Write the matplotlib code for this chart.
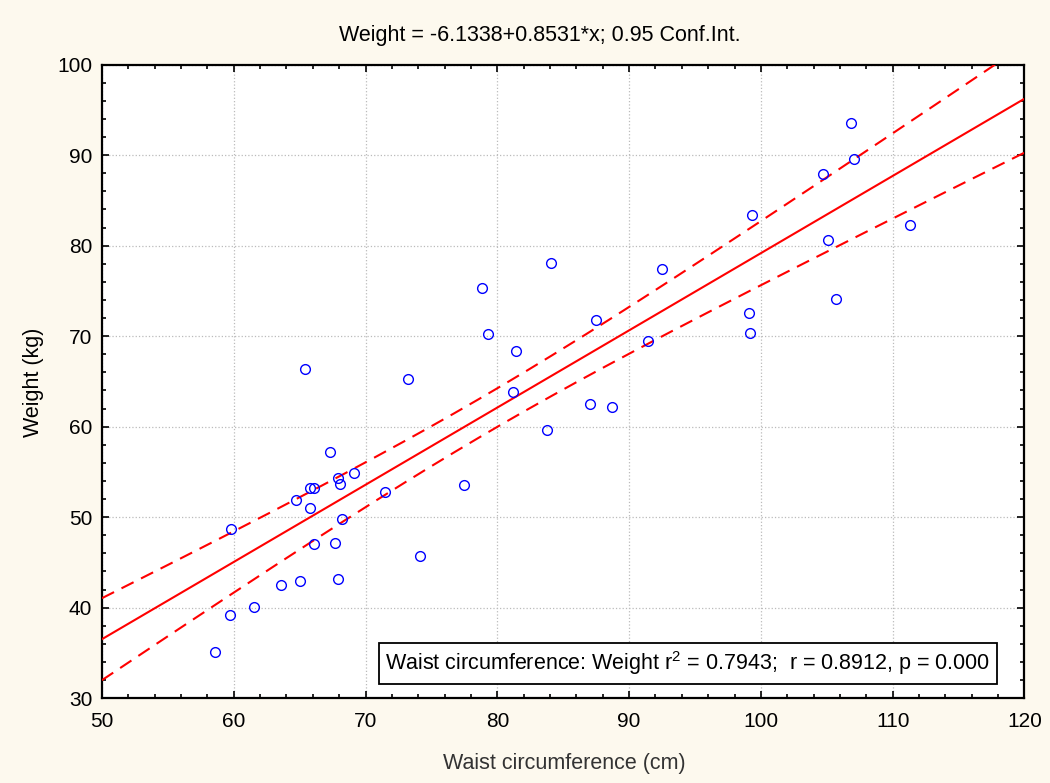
import numpy as np
import matplotlib
matplotlib.use("Agg")
import matplotlib.pyplot as plt
from matplotlib.ticker import MultipleLocator

# ── Data ───────────────────────────────────────────────────────────────
waist = [58.6, 59.7, 59.8, 61.5, 63.6, 64.7, 65.0, 65.4, 65.8, 65.8,
         66.1, 66.1, 67.3, 67.7, 67.9, 67.9, 68.1, 68.2, 69.1, 71.5,
         73.2, 74.1, 77.5, 78.8, 79.3, 81.2, 81.4, 83.8, 84.1, 87.0,
         87.5, 88.7, 91.4, 92.5, 99.1, 99.2, 99.3, 104.7, 105.1, 105.7,
         106.8, 107.1, 111.3]
weight = [35.1, 39.2, 48.7, 40.1, 42.5, 51.9, 43.0, 66.4, 53.2, 51.0,
          53.2, 47.0, 57.2, 47.2, 54.3, 43.2, 53.7, 49.8, 54.9, 52.8,
          65.3, 45.7, 53.6, 75.3, 70.2, 63.8, 68.4, 59.6, 78.1, 62.5,
          71.8, 62.2, 69.5, 77.4, 72.6, 70.4, 83.4, 87.9, 80.6, 74.1,
          93.6, 89.6, 82.3]

INTERCEPT = -6.1338
SLOPE = 0.8531
R2 = 0.7943
R = 0.8912
P = 0.000

BG = "#FDF9EE"

plt.rcParams["font.family"] = ["Liberation Sans", "DejaVu Sans"]
plt.rcParams["mathtext.fontset"] = "custom"
plt.rcParams["mathtext.rm"] = "Liberation Sans"

fig = plt.figure(figsize=(10.5, 7.83), dpi=100, facecolor=BG)
ax = fig.add_axes([0.0971, 0.1083, 0.8786, 0.8091])
ax.set_facecolor("white")

x = np.array(waist)
y = np.array(weight)
n = len(x)

# regression line and 95% confidence band for the mean
xs = np.linspace(50, 120, 300)
yhat = INTERCEPT + SLOPE * xs
resid = y - (INTERCEPT + SLOPE * x)
s = np.sqrt(np.sum(resid ** 2) / (n - 2))
sxx = np.sum((x - x.mean()) ** 2)
tval = 2.0195  # t(0.975, 41)
half = tval * s * np.sqrt(1.0 / n + (xs - x.mean()) ** 2 / sxx)

ax.plot(xs, yhat, color="#FF0000", linewidth=1.5, zorder=3)
ax.plot(xs, yhat + half, color="#FF0000", linewidth=1.5,
        dashes=(6.5, 4), zorder=3)
ax.plot(xs, yhat - half, color="#FF0000", linewidth=1.5,
        dashes=(6.5, 4), zorder=3)

ax.plot(x, y, linestyle="none", marker="o", markersize=7,
        markerfacecolor="none", markeredgecolor="#0000FF",
        markeredgewidth=1.0, zorder=4)

ax.set_xlim(50, 120)
ax.set_ylim(30, 100)
ax.xaxis.set_major_locator(MultipleLocator(10))
ax.xaxis.set_minor_locator(MultipleLocator(2))
ax.yaxis.set_major_locator(MultipleLocator(10))
ax.yaxis.set_minor_locator(MultipleLocator(2))
ax.tick_params(which="both", direction="in", top=True, right=True,
               labelsize=15, width=1.2)
ax.tick_params(axis="x", pad=10)
ax.tick_params(axis="y", pad=7)
ax.tick_params(which="major", length=5)
ax.tick_params(which="minor", length=3)
ax.grid(True, which="major", linestyle=":", color="#BBBBBB", linewidth=0.9)
for sp in ax.spines.values():
    sp.set_linewidth(1.6)

fig.text(540 / 1050, 1 - 36 / 783,
         f"Weight = {INTERCEPT:.4f}+{SLOPE:.4f}*x; 0.95 Conf.Int.",
         ha="center", va="center", fontsize=15.5)
fig.text(564 / 1050, 1 - 763 / 783, "Waist circumference (cm)",
         ha="center", va="center", fontsize=15.5, color="#333333")
fig.text(33 / 1050, 1 - 382 / 783, "Weight (kg)", rotation=90,
         ha="center", va="center", fontsize=15.5)

ax.text(0.963, 0.033,
        f"Waist circumference: Weight r$^2$ = {R2:.4f};  r = {R:.4f}, p = {P:.3f}",
        transform=ax.transAxes, ha="right", va="bottom", fontsize=15.5,
        zorder=5,
        bbox=dict(boxstyle="square,pad=0.3", facecolor="white",
                  edgecolor="black", linewidth=1.3))

fig.savefig("out.png", dpi=100, facecolor=BG)
